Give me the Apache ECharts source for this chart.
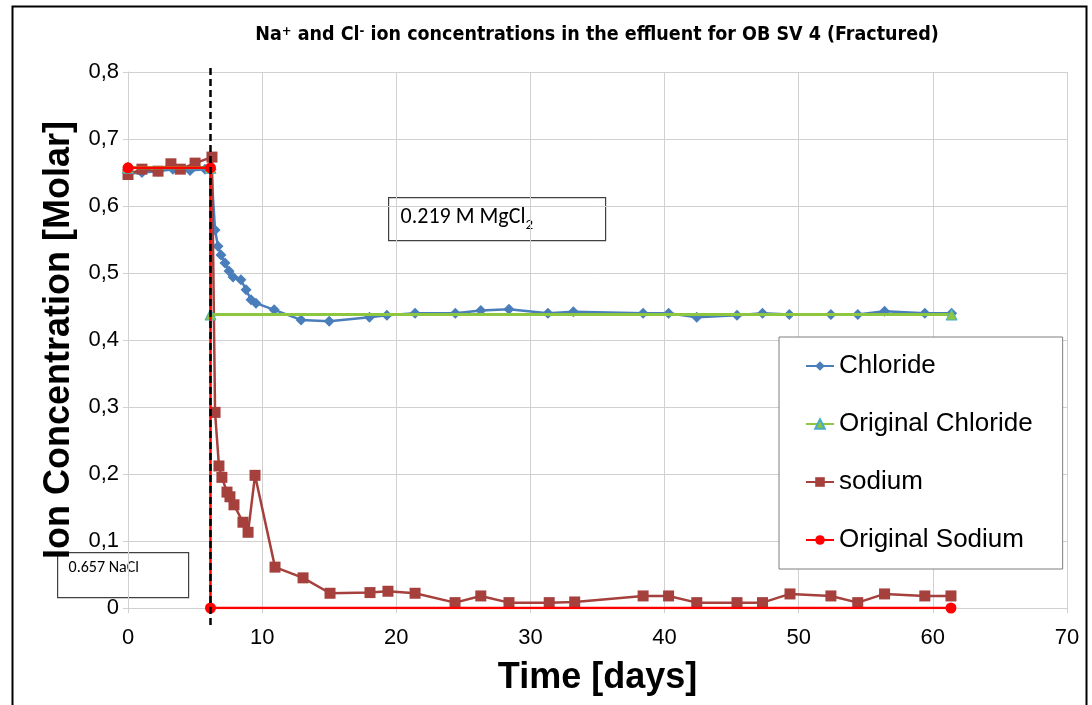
<!DOCTYPE html>
<html>
<head>
<meta charset="utf-8">
<script src="https://cdn.jsdelivr.net/npm/echarts@6/dist/echarts.min.js"></script>
<style>
  html, body { margin: 0; padding: 0; background: #ffffff; }
  #chart { width: 1092px; height: 705px; }
</style>
</head>
<body>
<div id="chart"></div>
<script>
// Effluent ion concentrations, OB SV 4 (fractured core), time in days
const chlorideDays = [0, 1.04, 2.24, 3.35, 4.62, 5.74, 6.2, 6.49, 6.71, 6.93, 7.23, 7.53, 7.83, 8.42, 8.8, 9.17, 9.54, 10.9, 12.9, 15.0, 18.0, 19.3, 21.4, 24.4, 26.3, 28.4, 31.3, 33.2, 38.4, 40.3, 42.4, 45.4, 47.3, 49.3, 52.4, 54.4, 56.4, 59.4, 61.4];
const chlorideMolar = [0.648, 0.650, 0.652, 0.655, 0.653, 0.655, 0.655, 0.564, 0.540, 0.527, 0.515, 0.503, 0.494, 0.490, 0.475, 0.460, 0.455, 0.445, 0.430, 0.428, 0.434, 0.437, 0.440, 0.440, 0.444, 0.446, 0.440, 0.442, 0.440, 0.440, 0.434, 0.437, 0.440, 0.438, 0.438, 0.438, 0.443, 0.440, 0.440];

const sodiumDays = [0, 1.04, 2.24, 3.2, 3.9, 5.0, 6.26, 6.49, 6.78, 7.0, 7.38, 7.6, 7.9, 8.57, 8.95, 9.47, 10.96, 13.05, 15.06, 18.04, 19.38, 21.4, 24.38, 26.3, 28.4, 31.4, 33.3, 38.4, 40.3, 42.4, 45.4, 47.3, 49.35, 52.4, 54.4, 56.4, 59.4, 61.35];
const sodiumMolar = [0.647, 0.655, 0.652, 0.663, 0.655, 0.664, 0.673, 0.292, 0.212, 0.195, 0.173, 0.166, 0.154, 0.128, 0.113, 0.198, 0.061, 0.045, 0.022, 0.023, 0.025, 0.022, 0.008, 0.018, 0.008, 0.008, 0.009, 0.018, 0.018, 0.008, 0.008, 0.008, 0.021, 0.018, 0.008, 0.021, 0.018, 0.018];

// Injected brine: 0.657 M NaCl, switched to 0.219 M MgCl2 (0.438 M Cl-)
const switchDay = 6.15;
const origChlorideDays = [0, switchDay, switchDay, 61.4];
const origChlorideMolar = [0.657, 0.657, 0.438, 0.438];
const origSodiumDays = [0, switchDay, switchDay, 61.35];
const origSodiumMolar = [0.657, 0.657, 0, 0];

// Dashed marker for the brine switch
const switchLineDays = [switchDay, switchDay];
const switchLineMolar = [0.806, -0.03];

const xTicks = [0, 10, 20, 30, 40, 50, 60, 70];
const yTicks = [0, 0.1, 0.2, 0.3, 0.4, 0.5, 0.6, 0.7, 0.8];

const pairs = (xs, ys) => xs.map((x, i) => [x, ys[i]]);

const chart = echarts.init(document.getElementById('chart'), null, { renderer: 'canvas' });

const FONT = 'Liberation Sans, Arial, sans-serif';
const NARROW = '"Liberation Sans Narrow", "DejaVu Sans Condensed", sans-serif';
const NOTE = 'Carlito, "Open Sans", sans-serif';

chart.setOption({
  backgroundColor: '#ffffff',
  animation: false,
  title: {
    text: 'Na{sup|+} and Cl{sup|-} ion concentrations in the effluent for OB SV 4 (Fractured)',
    left: 592,
    textAlign: 'center',
    top: 20,
    textStyle: {
      fontFamily: NARROW,
      fontWeight: 'bold',
      fontSize: 19.5,
      color: '#000000',
      rich: {
        sup: { fontFamily: NARROW, fontWeight: 'bold', fontSize: 13, verticalAlign: 'top', lineHeight: 20, color: '#000' }
      }
    }
  },
  grid: { left: 128, right: 25, top: 72, bottom: 97, containLabel: false },
  legend: {
    orient: 'vertical',
    left: 779,
    top: 337,
    data: ['Chloride', 'Original Chloride', 'sodium', 'Original Sodium'],
    backgroundColor: '#ffffff',
    borderColor: '#7f7f7f',
    borderWidth: 1,
    padding: [16, 30, 16, 26],
    itemGap: 32,
    itemWidth: 28,
    itemHeight: 12,
    textStyle: { fontFamily: FONT, fontSize: 26, color: '#000000' }
  },
  xAxis: {
    type: 'value',
    min: 0, max: 70, interval: 10,
    axisLine: { show: true, lineStyle: { color: '#d0d0d0', width: 1 } },
    axisTick: { show: true, length: 5, lineStyle: { color: '#d0d0d0' } },
    splitLine: { show: true, lineStyle: { color: '#d0d0d0', width: 1 } },
    axisLabel: {
      fontFamily: FONT, fontSize: 22, color: '#000', margin: 19,
      formatter: v => xTicks.includes(v) ? String(v) : ''
    },
    name: 'Time [days]',
    nameLocation: 'middle',
    nameGap: 52,
    nameTextStyle: { fontFamily: FONT, fontSize: 36, fontWeight: 'bold', color: '#000' }
  },
  yAxis: {
    type: 'value',
    min: 0, max: 0.8, interval: 0.1,
    axisLine: { show: true, lineStyle: { color: '#d0d0d0', width: 1 } },
    axisTick: { show: true, length: 5, lineStyle: { color: '#d0d0d0' } },
    splitLine: { show: true, lineStyle: { color: '#d0d0d0', width: 1 } },
    axisLabel: {
      fontFamily: FONT, fontSize: 22, color: '#000', margin: 9,
      formatter: v => {
        const t = yTicks.find(k => Math.abs(k - v) < 1e-9);
        return t === undefined ? '' : (t === 0 ? '0' : t.toFixed(1).replace('.', ','));
      }
    },
    name: 'Ion Concentration [Molar]',
    nameLocation: 'middle',
    nameGap: 51,
    nameRotate: 90,
    nameTextStyle: { fontFamily: FONT, fontSize: 36, fontWeight: 'bold', color: '#000' }
  },
  series: [
    {
      name: 'Chloride',
      type: 'line',
      data: pairs(chlorideDays, chlorideMolar),
      symbol: 'diamond',
      symbolSize: 11,
      color: '#4a7ebb',
      lineStyle: { width: 2.5, color: '#4a7ebb' },
      itemStyle: { color: '#4a7ebb' },
      z: 2
    },
    {
      name: 'sodium',
      type: 'line',
      data: pairs(sodiumDays, sodiumMolar),
      symbol: 'rect',
      symbolSize: 11,
      color: '#a5403d',
      lineStyle: { width: 2.5, color: '#a5403d' },
      itemStyle: { color: '#a5403d' },
      z: 3
    },
    {
      name: 'Original Chloride',
      type: 'line',
      data: pairs(origChlorideDays, origChlorideMolar),
      symbol: 'triangle',
      symbolSize: 11,
      color: '#8dc63f',
      lineStyle: { width: 3, color: '#8dc63f' },
      itemStyle: { color: '#8dc63f', borderColor: '#4bacc6', borderWidth: 1 },
      z: 4
    },
    {
      name: 'Original Sodium',
      type: 'line',
      data: pairs(origSodiumDays, origSodiumMolar),
      symbol: 'circle',
      symbolSize: 11,
      color: '#ff0000',
      lineStyle: { width: 2.5, color: '#ff0000' },
      itemStyle: { color: '#ff0000' },
      z: 5
    },
    {
      name: 'switch',
      type: 'line',
      data: pairs(switchLineDays, switchLineMolar),
      symbol: 'none',
      clip: false,
      silent: true,
      lineStyle: { width: 2.5, color: '#000000', type: [7, 4] },
      z: 6
    }
  ],
  graphic: [
    {
      type: 'rect',
      left: 10, top: 4,
      shape: { width: 1074, height: 710 },
      style: { fill: 'none', stroke: '#000000', lineWidth: 2 },
      silent: true,
      z: 100
    },
    {
      type: 'group',
      left: 388, top: 197,
      z: 50,
      children: [
        { type: 'rect', shape: { x: 0, y: 0, width: 217, height: 43 }, style: { fill: '#ffffff', stroke: '#404040', lineWidth: 1.2 } },
        {
          type: 'text', x: 12, y: 9,
          style: {
            text: '{m|0.219 M MgCl}{sub|2}',
            fontFamily: NOTE,
            fontSize: 22,
            fill: '#000',
            rich: {
              m: { fontSize: 22, lineHeight: 26, fill: '#000', fontFamily: NOTE, verticalAlign: 'top' },
              sub: { fontSize: 15, lineHeight: 15, fill: '#000', fontFamily: NOTE, verticalAlign: 'bottom', padding: [0, 0, 0, 0] }
            }
          }
        }
      ]
    },
    {
      type: 'group',
      left: 57, top: 552,
      z: 50,
      children: [
        { type: 'rect', shape: { x: 0, y: 0, width: 131, height: 45 }, style: { fill: '#ffffff', stroke: '#404040', lineWidth: 1.2 } },
        {
          type: 'text', x: 11, y: 7,
          style: { text: '0.657 NaCl', fontFamily: NOTE, fontSize: 16, fill: '#000' }
        }
      ]
    }
  ]
});
</script>
</body>
</html>
